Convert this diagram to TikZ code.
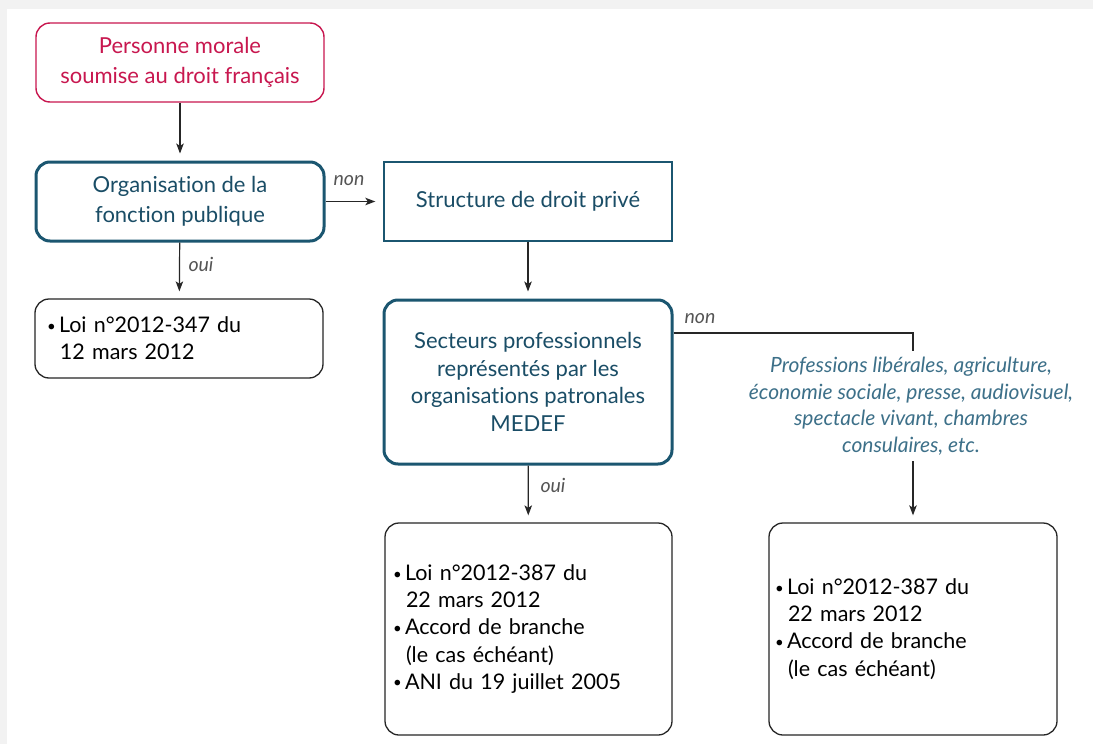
\documentclass[tikz,border=0pt]{standalone}
\usepackage{fontspec}
\setmainfont{Lato}[Ligatures={NoCommon,NoRare,NoDiscretionary}]
\usetikzlibrary{arrows.meta}
\definecolor{crim}{HTML}{C8174F}
\definecolor{tealline}{HTML}{1B5670}
\definecolor{tealtxt}{HTML}{1A4D66}
\definecolor{tealit}{HTML}{3D7089}
\definecolor{bggray}{HTML}{F2F2F2}
\definecolor{lblgray}{HTML}{555555}
\newcommand{\bul}{\makebox[12pt][l]{\raisebox{1.5pt}{\fontsize{15}{15}\selectfont\textbullet}}}
\newcommand{\ind}{\hspace*{13pt}}
\begin{document}
\begin{tikzpicture}[x=1pt,y=-1pt,
  pinkbox/.style={draw=crim, line width=1.4pt, rounded corners=14pt, text=crim, align=center,
    minimum width=288pt, minimum height=79pt, inner sep=0pt, font=\fontsize{22}{29.5}\selectfont},
  thickbox/.style={draw=tealline, line width=3pt, rounded corners=14pt, text=tealtxt, align=center,
    minimum width=288pt, inner sep=0pt},
  plainbox/.style={draw=tealline, line width=1.4pt, text=tealtxt, align=center,
    minimum width=288pt, minimum height=79pt, inner sep=0pt, font=\fontsize{22}{29}\selectfont},
  listbox/.style={draw=black!85, line width=1.3pt, rounded corners=14pt, align=left,
    text width=268pt, inner sep=0pt, font=\fontsize{21.5}{27.2}\selectfont},
  proftext/.style={text=tealit, align=center, inner sep=6pt, font=\fontsize{21}{26.5}\selectfont\itshape},
  lbl/.style={text=lblgray, font=\fontsize{19.5}{21}\selectfont\itshape, inner sep=0pt},
  arr/.style={draw=black!85, line width=1.2pt, -{Stealth[length=10pt,width=7.5pt,inset=2.5pt]}, shorten >=7pt},
  conn/.style={draw=black!85, line width=1.2pt}
]
\fill[bggray] (0,0) rectangle (1093,744);
\fill[white] (7,9) rectangle (1093,744);
\useasboundingbox (0,0) rectangle (1093,744);

\node[pinkbox] (pm) at (180,62.5) {Personne morale\\soumise au droit français};
\node[thickbox, minimum height=79pt, font=\fontsize{22}{30}\selectfont] (org) at (180,201.5) {Organisation de la\\fonction publique};
\node[plainbox] (struct) at (528,201.5) {Structure de droit privé};
\node[listbox, minimum width=288pt, minimum height=79pt, text width=264pt] (loi1) at (179,338.5)
  {\bul Loi n°2012-347 du\\\ind 12 mars 2012};
\node[thickbox, minimum height=164pt, font=\fontsize{22}{27.7}\selectfont] (sect) at (528,382)
  {Secteurs professionnels\\représentés par les\\organisations patronales\\MEDEF};
\node[listbox, minimum width=287pt, minimum height=212pt, text width=271pt] (b2) at (528.5,629)
  {\bul Loi n°2012-387 du\\\ind 22 mars 2012\\\bul Accord de branche\\\ind (le cas échéant)\\\bul ANI du 19 juillet 2005};
\node[listbox, minimum width=288pt, minimum height=212pt, text width=276pt] (b3) at (913,629)
  {\bul Loi n°2012-387 du\\\ind 22 mars 2012\\\bul Accord de branche\\\ind (le cas échéant)};
\node[proftext] (prof) at (911,406)
  {Professions libérales, agriculture,\\économie sociale, presse, audiovisuel,\\spectacle vivant, chambres\\consulaires, etc.};

\node[lbl] (non1) at (349,181) {non};
\node[lbl] (oui1) at (201,264) {oui};
\node[lbl] (non2) at (700,319) {non};
\node[lbl] (oui2) at (553,485) {oui};

\coordinate (elbow) at (913,333);

\draw[arr] (pm) -- (org);
\draw[arr, shorten >=8pt] (org) -- (struct);
\draw[arr] (org) -- (loi1);
\draw[arr] (struct) -- (sect);
\draw[arr] (sect) -- (b2);
\draw[conn] (sect.east |- elbow) -- (elbow) -- (elbow |- prof.north);
\draw[arr] (elbow |- prof.south) -- (elbow |- b3.north);
\end{tikzpicture}
\end{document}
